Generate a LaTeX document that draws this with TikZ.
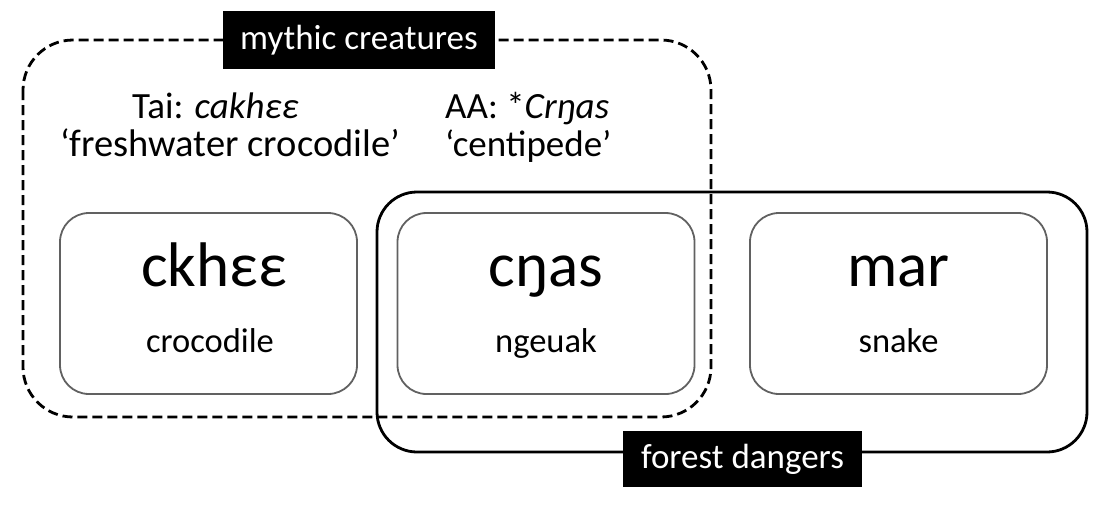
\documentclass[tikz,border=0pt]{standalone}
\usepackage{fontspec}
\setmainfont{Carlito}
\begin{document}
\begin{tikzpicture}[x=1pt,y=-1pt,
  wordbox/.style={draw=black!62,line width=1.8pt,rounded corners=29pt,minimum width=297pt,minimum height=181pt,inner sep=0pt},
  bigword/.style={font=\fontsize{63}{66}\selectfont,anchor=base,inner sep=0pt},
  gloss/.style={font=\fontsize{34.5}{38}\selectfont,anchor=base,inner sep=0pt},
  note/.style={font=\fontsize{37}{40}\selectfont,anchor=base west,inner sep=0pt},
  tag/.style={fill=black,text=white,font=\fontsize{35}{40}\selectfont,inner sep=0pt}]
\useasboundingbox (0,0) rectangle (1108,525);
% group outlines
\draw[line width=2.8pt,rounded corners=40pt] (377,192) rectangle (1087,452);
\draw[line width=2.8pt,dash pattern=on 10pt off 5pt,rounded corners=50pt] (23,40) rectangle (711,417);
% word boxes
\node[wordbox] (b1) at (208.5,303.5) {};
\node[wordbox] (b2) at (546,303.5) {};
\node[wordbox] (b3) at (898.5,303.5) {};
\node[bigword] (w1) at (214,286) {ckhεε};
\node[bigword] (w2) at (546,286) {cŋas};
\node[bigword] (w3) at (898.5,286) {mar};
\node[gloss] (g1) at (210,352) {crocodile};
\node[gloss] (g2) at (546,352) {ngeuak};
\node[gloss] (g3) at (898.5,352) {snake};
% annotations
\node[note] (t1) at (132,118) {Tai: \textit{cakhεε}};
\node[note,font=\fontsize{38.5}{42}\selectfont] (t2) at (60,156) {‘freshwater crocodile’};
\node[note] (a1) at (445,118) {AA: *\textit{Crŋas}};
\node[note] (a2) at (445,156) {‘centipede’};
% group tags
\node[tag,minimum width=272pt,minimum height=58pt] (mc) at (359,40) {mythic creatures};
\node[tag,minimum width=239pt,minimum height=56pt] (fd) at (742.5,459) {forest dangers};
\end{tikzpicture}
\end{document}
